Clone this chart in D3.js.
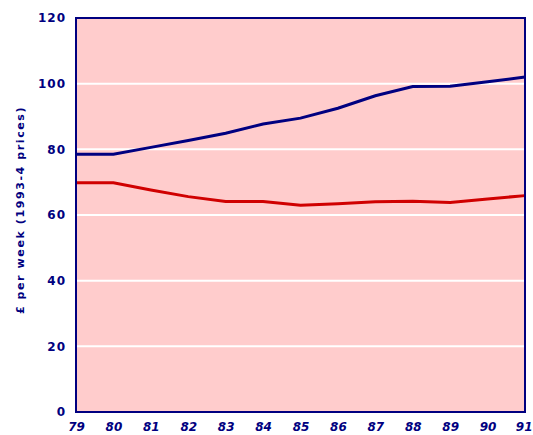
<!DOCTYPE html>
<html><head><meta charset="utf-8">
<script src="https://cdn.jsdelivr.net/npm/d3@7"></script>
<style>body{margin:0;background:#fff;}svg{display:block;}</style>
</head><body>
<svg id="c" width="533" height="435"></svg>
<script>
const years = [79,80,81,82,83,84,85,86,87,88,89,90,91];
const yearLabels = ["79","80","81","82","83","84","85","86","87","88","89","90","91"];
const navySeries = [78.5,78.5,80.6,82.7,84.9,87.7,89.5,92.5,96.3,99.1,99.2,100.6,102];
const redSeries = [69.8,69.8,67.6,65.6,64.1,64.1,63.0,63.4,64.0,64.2,63.8,64.9,65.9];
const yTicks = [0,20,40,60,80,100,120];
const yLabel = "£ per week (1993-4 prices)";

const svg = d3.select("#c");
const m = {l:76, r:525, t:18, b:412};
const x = d3.scaleLinear().domain([79,91]).range([m.l, m.r]);
const y = d3.scaleLinear().domain([0,120]).range([m.b, m.t]);
const navy = "#000080", red = "#d00000";

svg.append("rect").attr("x",m.l).attr("y",m.t).attr("width",m.r-m.l).attr("height",m.b-m.t).attr("fill","#ffcccc");
svg.append("g").selectAll("line").data(yTicks.filter(d=>d>0&&d<120)).join("line")
  .attr("x1",m.l).attr("x2",m.r).attr("y1",d=>y(d)).attr("y2",d=>y(d))
  .attr("stroke","#fff").attr("stroke-width",2);

const line = d3.line().x((d,i)=>x(years[i])).y(d=>y(d));
svg.append("path").datum(navySeries).attr("d",line).attr("fill","none").attr("stroke",navy).attr("stroke-width",3);
svg.append("path").datum(redSeries).attr("d",line).attr("fill","none").attr("stroke",red).attr("stroke-width",3);

svg.append("rect").attr("x",m.l).attr("y",m.t).attr("width",m.r-m.l).attr("height",m.b-m.t).attr("fill","none").attr("stroke",navy).attr("stroke-width",2);

const font = "Verdana, 'DejaVu Sans', sans-serif";
const yAxis = d3.axisLeft(y).tickValues(yTicks).tickSize(0).tickPadding(10);
const gy = svg.append("g").attr("transform",`translate(${m.l},0)`).call(yAxis);
gy.select(".domain").remove();
gy.selectAll("text").attr("fill",navy).attr("font-family",font).attr("font-weight","bold").attr("font-size",12).attr("letter-spacing",1);

const xAxis = d3.axisBottom(x).tickValues(years).tickFormat((d,i)=>yearLabels[i]).tickSize(0).tickPadding(10);
const gx = svg.append("g").attr("transform",`translate(0,${m.b})`).call(xAxis);
gx.select(".domain").remove();
gx.selectAll("text").attr("fill",navy).attr("font-family",font).attr("font-weight","bold").attr("font-size",12).attr("font-style","italic");
gx.selectAll(".tick").filter(d=>d===91).select("text").attr("text-anchor","end").attr("dx",7);

svg.append("text").attr("transform",`translate(24,210) rotate(-90)`)
  .attr("text-anchor","middle").attr("fill",navy).attr("font-family",font).attr("font-weight","bold").attr("font-size",11).attr("letter-spacing",1.6)
  .text(yLabel);
</script>
</body></html>
